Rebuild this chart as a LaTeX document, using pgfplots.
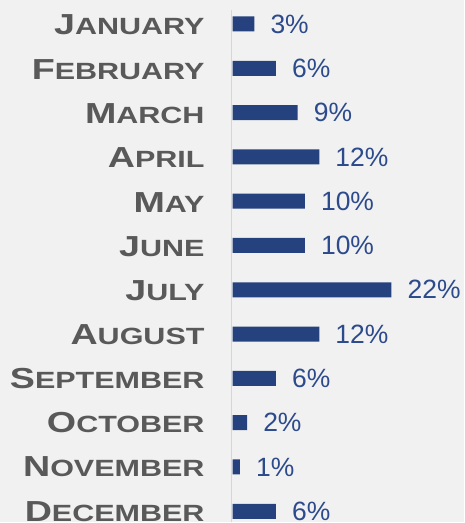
\documentclass[border=0pt]{standalone}
\usepackage{fontspec}
\setmainfont{Liberation Sans}
\newfontfamily\labf[FakeStretch=1.3]{Liberation Sans}
\usepackage{pgfplots}
\pgfplotsset{compat=1.18}
\definecolor{bg}{HTML}{F1F1F1}
\definecolor{barblue}{HTML}{25427F}
\definecolor{valblue}{HTML}{2C4A8C}
\definecolor{labgray}{HTML}{595959}
\definecolor{linegray}{HTML}{D6D6D6}
\newcommand\mc[2]{{\fontsize{29}{29}\selectfont #1}{\fontsize{23.5}{23.5}\selectfont #2}}
\begin{document}
\begin{tikzpicture}[x=1pt,y=1pt]
\fill[bg] (0,0) rectangle (465,523);
\draw[linegray, line width=1.5pt] (232,0) -- (232,513);
\begin{axis}[
  at={(233pt,0pt)}, anchor=south west,
  scale only axis, width=232pt, height=523pt,
  xmin=0, xmax=32.09,
  ymin=-0.541, ymax=11.248, y dir=reverse,
  axis lines=none,
  clip=false,
  xbar, bar width=15pt, bar shift=0pt,
  point meta=x,
  /pgf/number format/assume math mode=true,
  nodes near coords={\pgfmathprintnumber[assume math mode=true]{\pgfplotspointmeta}\%},
  every node near coord/.append style={font=\fontsize{26.5}{26.5}\selectfont, text=valblue, inner sep=0pt, xshift=16pt, anchor=west},
]
\addplot[fill=barblue, draw=none] coordinates {
(3,0) (6,1) (9,2) (12,3) (10,4) (10,5) (22,6) (12,7) (6,8) (2,9) (1,10) (6,11)
};
\end{axis}
\begin{scope}[every node/.style={anchor=base east, inner sep=0pt, text=labgray, font=\labf\bfseries}]
\node at (205,523-24-10.5) {\mc{J}{ANUARY}};
\node at (205,523-69-10.5) {\mc{F}{EBRUARY}};
\node at (205,523-113-10.5) {\mc{M}{ARCH}};
\node at (205,523-157-10.5) {\mc{A}{PRIL}};
\node at (205,523-202-10.5) {\mc{M}{AY}};
\node at (205,523-246-10.5) {\mc{J}{UNE}};
\node at (205,523-290-10.5) {\mc{J}{ULY}};
\node at (205,523-334-10.5) {\mc{A}{UGUST}};
\node at (205,523-379-10.5) {\mc{S}{EPTEMBER}};
\node at (205,523-423-10.5) {\mc{O}{CTOBER}};
\node at (205,523-467-10.5) {\mc{N}{OVEMBER}};
\node at (205,523-512-10.5) {\mc{D}{ECEMBER}};
\end{scope}
\end{tikzpicture}
\end{document}
